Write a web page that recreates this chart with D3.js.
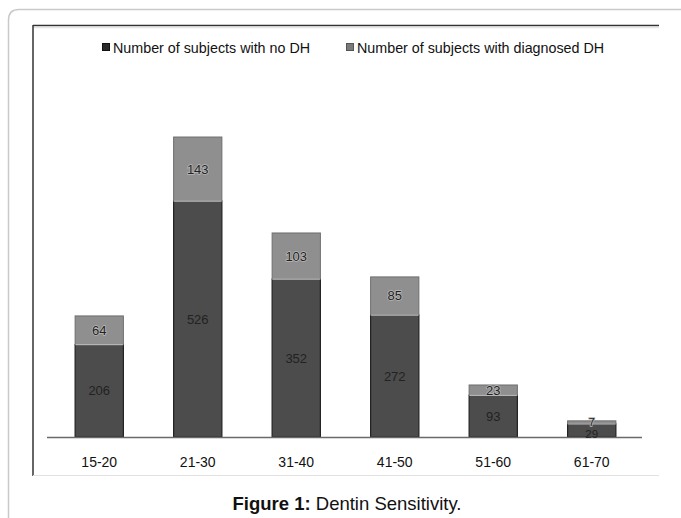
<!DOCTYPE html>
<html><head><meta charset="utf-8">
<script src="https://cdn.jsdelivr.net/npm/d3@7"></script>
<style>html,body{margin:0;padding:0;background:#fff;}svg{display:block;}</style>
</head><body>
<script>
const categories = ["15-20","21-30","31-40","41-50","51-60","61-70"];
const noDH = [206,526,352,272,93,29];
const diagnosedDH = [64,143,103,85,23,7];
const seriesNames = ["Number of subjects with no DH","Number of subjects with diagnosed DH"];
const caption = ["Figure 1:", " Dentin Sensitivity."];

const W = 681, H = 518;
const svg = d3.select("body").append("svg").attr("width", W).attr("height", H);
const font = "Liberation Sans, Arial, sans-serif";

// outer frame
svg.append("path")
  .attr("d", `M${W+2},9.5 L19,9.5 Q8.5,9.5 8.5,20 L8.5,${H+2}`)
  .attr("fill","none").attr("stroke","#c9c9c9").attr("stroke-width",1.5);

// inner chart box
svg.append("line").attr("x1",33).attr("x2",659).attr("y1",25.5).attr("y2",25.5).attr("stroke","#333").attr("stroke-width",1.5);
svg.append("line").attr("x1",33).attr("x2",659).attr("y1",27.5).attr("y2",27.5).attr("stroke","#e6e6e6").attr("stroke-width",1.5);
svg.append("line").attr("x1",33).attr("x2",33).attr("y1",25).attr("y2",476).attr("stroke","#333").attr("stroke-width",1.5);
svg.append("line").attr("x1",33).attr("x2",659).attr("y1",475.5).attr("y2",475.5).attr("stroke","#e2e2e2").attr("stroke-width",1.2);

const x = d3.scaleBand().domain(categories).range([50,641]).paddingInner(0.51).paddingOuter(0.255);
const baseY = 437;
const y = d3.scaleLinear().domain([0,700]).range([baseY, baseY - 700*0.4484]);

const data = categories.map((c,i)=>({c, a:noDH[i], b:diagnosedDH[i]}));

const g = svg.append("g");
// dark segments
g.selectAll("rect.a").data(data).join("rect").attr("class","a")
  .attr("x", d=>x(d.c)).attr("width", x.bandwidth())
  .attr("y", d=>y(d.a)).attr("height", d=>y(0)-y(d.a))
  .attr("fill","#4c4c4c").attr("stroke","#222").attr("stroke-width",1.2);
// light segments
g.selectAll("rect.b").data(data).join("rect").attr("class","b")
  .attr("x", d=>x(d.c)).attr("width", x.bandwidth())
  .attr("y", d=>y(d.a+d.b)).attr("height", d=>y(d.a)-y(d.a+d.b))
  .attr("fill","#8f8f8f").attr("stroke","#6e6e6e").attr("stroke-width",1);
// light boundary line
g.selectAll("line.sep").data(data).join("line").attr("class","sep")
  .attr("x1", d=>x(d.c)+0.5).attr("x2", d=>x(d.c)+x.bandwidth()-0.5)
  .attr("y1", d=>y(d.a)).attr("y2", d=>y(d.a))
  .attr("stroke","#b5b5b5").attr("stroke-width",1.2);

// axis baseline
svg.append("line").attr("x1",47).attr("x2",642).attr("y1",baseY+0.5).attr("y2",baseY+0.5).attr("stroke","#6a6a6a").attr("stroke-width",1.5);

// value labels
const lab = svg.append("g").attr("font-family", font).attr("font-size", 13).attr("text-anchor","middle").attr("fill","#222");
lab.selectAll("text.a").data(data).join("text").attr("class","a")
  .attr("x", d=>x(d.c)+x.bandwidth()/2)
  .attr("y", d=> d.a < 40 ? y(0)+1 : (y(d.a)+y(0))/2 + 4.5)
  .attr("font-size", d=> d.a < 40 ? 11.5 : 13)
  .text(d=>d.a);
lab.selectAll("text.b").data(data).join("text").attr("class","b")
  .attr("x", d=>x(d.c)+x.bandwidth()/2)
  .attr("y", d=> d.b < 15 ? y(d.a+d.b)+5.5 : (y(d.a+d.b)+y(d.a))/2 + 4.5)
  .attr("font-size", d=> d.b < 15 ? 11.5 : 13)
  .attr("stroke","#b8b8b8").attr("stroke-width",1.5).attr("paint-order","stroke")
  .text(d=>d.b);

// x tick labels
svg.append("g").selectAll("text").data(categories).join("text")
  .attr("x", d=>x(d)+x.bandwidth()/2).attr("y", 467)
  .attr("text-anchor","middle").attr("font-family",font).attr("font-size",14).attr("fill","#111")
  .text(d=>d);

// legend
const legX = [102, 346];
const lg = svg.append("g");
seriesNames.forEach((n,i)=>{
  lg.append("rect").attr("x",legX[i]+0.5).attr("y",43.5).attr("width",7).attr("height",7)
    .attr("fill", i===0 ? "#2a2a2a" : "#7a7a7a").attr("stroke", i===0?"#111":"#555").attr("stroke-width",1);
  lg.append("text").attr("x",legX[i]+11).attr("y",52.5).attr("font-family",font).attr("font-size",14.3).attr("fill","#111").text(n);
});

// caption
const cap = svg.append("text").attr("x",347).attr("y",510).attr("text-anchor","middle").attr("font-family",font).attr("font-size",18.5).attr("fill","#111");
cap.append("tspan").attr("font-weight","bold").text(caption[0]);
cap.append("tspan").text(caption[1]);
</script>
</body></html>
